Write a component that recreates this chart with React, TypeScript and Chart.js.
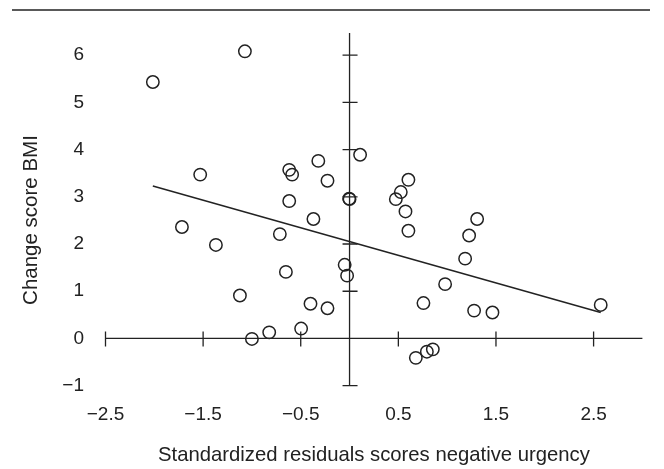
import React, { useEffect, useRef } from "react";
import { Chart, registerables } from "chart.js";

Chart.register(...registerables);

// ---- data ----
const residualScores = [
  -2.015, -1.072, -1.53, -1.717, -1.369, -1.123, -1.0, -0.823, -0.496, -0.714,
  -0.652, -0.618, -0.588, -0.618, -0.32, -0.226, -0.37, -0.4, -0.226, 0.0,
  -0.004, 0.108, -0.05, -0.025, 0.474, 0.525, 0.603, 0.573, 0.603, 1.307,
  1.225, 1.184, 0.979, 0.757, 1.276, 1.464, 0.679, 0.792, 0.853, 2.573,
];
const bmiChange = [
  5.43, 6.08, 3.47, 2.36, 1.98, 0.91, -0.01, 0.13, 0.21, 2.21,
  1.41, 3.57, 3.47, 2.91, 3.76, 3.34, 2.53, 0.735, 0.64, 2.95,
  2.96, 3.89, 1.56, 1.33, 2.95, 3.1, 3.36, 2.69, 2.28, 2.53,
  2.18, 1.69, 1.15, 0.75, 0.59, 0.55, -0.41, -0.28, -0.23, 0.71,
];
const fitLineX = [-2.015, 2.573];
const fitLineY = [3.23, 0.55];
const xTickValues = [-2.5, -1.5, -0.5, 0.5, 1.5, 2.5];
const yTickValues = [-1, 0, 1, 2, 3, 4, 5, 6];
const xAxisTitle = "Standardized residuals scores negative urgency";
const yAxisTitle = "Change score BMI";

const INK = "#222222";
const FONT = "'Liberation Sans', Arial, Helvetica, sans-serif";

const fmt = (v: number) => (v < 0 ? "\u2212" + String(Math.abs(v)) : String(v));

const crossAxes = {
  id: "crossAxes",
  beforeDatasetsDraw(chart: any) {
    const { ctx } = chart;
    const xs = chart.scales.x;
    const ys = chart.scales.y;
    const x0 = xs.getPixelForValue(0);
    const y0 = ys.getPixelForValue(0);
    ctx.save();
    ctx.strokeStyle = INK;
    ctx.lineWidth = 1.3;
    ctx.beginPath();
    ctx.moveTo(xs.getPixelForValue(xTickValues[0]), y0);
    ctx.lineTo(xs.right, y0);
    ctx.moveTo(x0, ys.getPixelForValue(yTickValues[0]));
    ctx.lineTo(x0, ys.top);
    xTickValues.forEach((v) => {
      const px = xs.getPixelForValue(v);
      ctx.moveTo(px, y0 - 7);
      ctx.lineTo(px, y0 + 8);
    });
    yTickValues.forEach((v) => {
      if (v === 0) return;
      const py = ys.getPixelForValue(v);
      ctx.moveTo(x0 - 7, py);
      ctx.lineTo(x0 + 8, py);
    });
    ctx.stroke();
    // header rule
    ctx.beginPath();
    ctx.moveTo(12, 10);
    ctx.lineTo(650, 10);
    ctx.stroke();
    // y axis title
    ctx.translate(31, 220);
    ctx.rotate(-Math.PI / 2);
    ctx.fillStyle = INK;
    ctx.font = `20.5px ${FONT}`;
    ctx.textAlign = "center";
    ctx.textBaseline = "middle";
    ctx.fillText(yAxisTitle, 0, 0);
    ctx.restore();
  },
};

export default function App() {
  const canvasRef = useRef<HTMLCanvasElement | null>(null);

  useEffect(() => {
    document.body.style.margin = "0";
    const canvas = canvasRef.current;
    if (!canvas) return;
    const points = residualScores.map((x, i) => ({ x, y: bmiChange[i] }));
    const fit = fitLineX.map((x, i) => ({ x, y: fitLineY[i] }));
    const chart = new Chart(canvas, {
      type: "scatter",
      data: {
        datasets: [
          {
            type: "line",
            data: fit,
            borderColor: INK,
            borderWidth: 1.5,
            pointRadius: 0,
            fill: false,
          } as any,
          {
            data: points,
            pointStyle: "circle",
            pointRadius: 6.2,
            pointBorderWidth: 1.5,
            borderColor: INK,
            backgroundColor: "rgba(0,0,0,0)",
            pointBackgroundColor: "rgba(0,0,0,0)",
          } as any,
        ],
      },
      options: {
        animation: false,
        responsive: false,
        layout: { padding: { top: 29, right: 21.6, left: 0, bottom: 0 } },
        plugins: {
          legend: { display: false },
          tooltip: { enabled: false },
        },
        scales: {
          x: {
            type: "linear",
            min: -2.5,
            max: 3.0,
            grid: { display: false, drawTicks: false },
            border: { display: false },
            afterBuildTicks: (s: any) => {
              s.ticks = xTickValues.map((value) => ({ value }));
            },
            afterFit: (s: any) => {
              s.height = 469 - 385.7;
            },
            ticks: {
              color: INK,
              padding: 18,
              font: { family: FONT, size: 19 },
              callback: (v: any) => fmt(Number(v)),
              maxRotation: 0,
              autoSkip: false,
            },
            title: {
              display: true,
              text: xAxisTitle,
              color: INK,
              font: { family: FONT, size: 20.3 },
              padding: { top: 0, bottom: 1 },
            },
          },
          y: {
            type: "linear",
            min: -1,
            max: 6.47,
            grid: { display: false, drawTicks: false },
            border: { display: false },
            afterBuildTicks: (s: any) => {
              s.ticks = yTickValues.map((value) => ({ value }));
            },
            afterFit: (s: any) => {
              s.width = 105.5;
            },
            ticks: {
              color: INK,
              padding: 21.5,
              font: { family: FONT, size: 19 },
              callback: (v: any) => fmt(Number(v)),
              autoSkip: false,
            },
          },
        },
      },
      plugins: [crossAxes],
    } as any);
    return () => chart.destroy();
  }, []);

  return (
    <div style={{ position: "absolute", left: 0, top: 0, width: 664, height: 469, background: "#fff" }}>
      <canvas ref={canvasRef} width={664} height={469} />
    </div>
  );
}
